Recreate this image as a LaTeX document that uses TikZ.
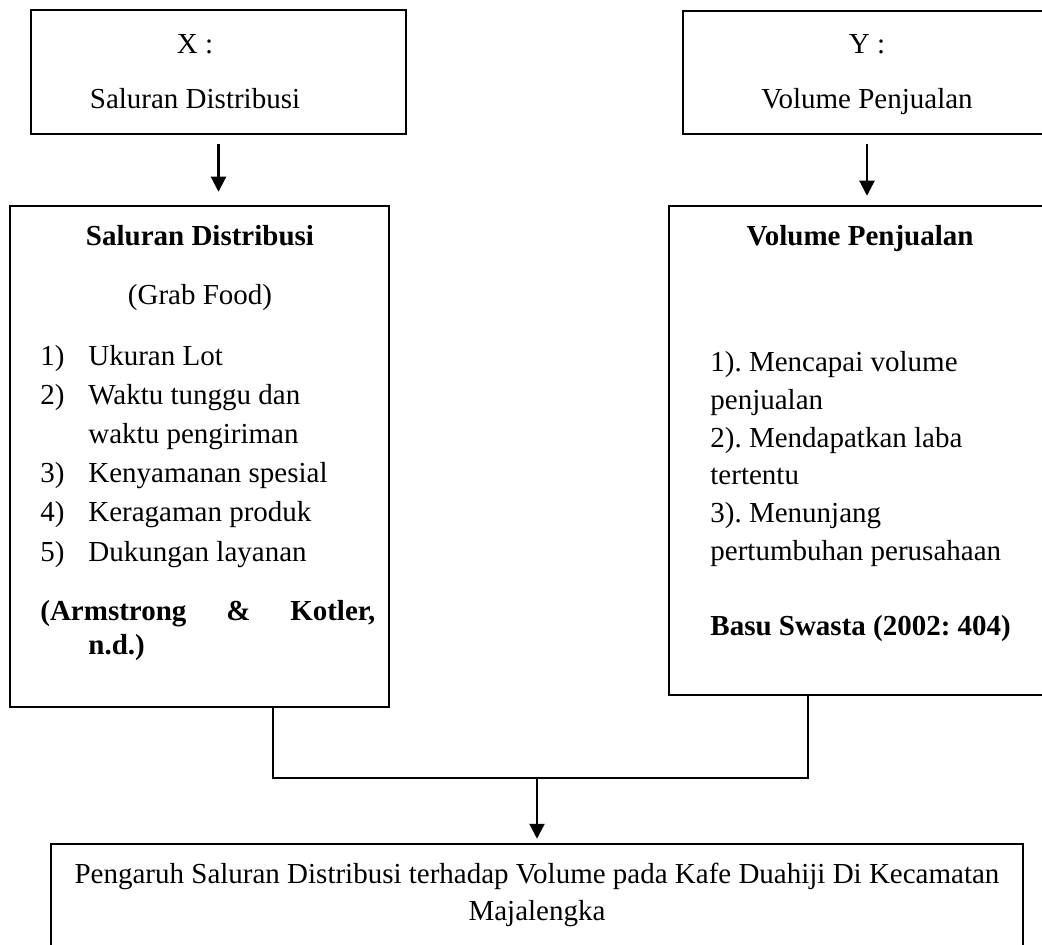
\documentclass[tikz,border=0pt]{standalone}
\usepackage{fontspec}
\setmainfont{Liberation Serif}
\usetikzlibrary{arrows.meta, positioning}
\frenchspacing

\begin{document}
\begin{tikzpicture}
	[%
	x=0.5pt, y=-0.5pt,%
	font=\fontsize{14.5}{19}\selectfont,%
	>={Triangle[length=7.5pt,width=7.5pt]},%
	frame/.style ={rectangle,	draw=black,	line width=1.25pt,	inner sep=0pt},%
	txt/.style   ={inner sep=0pt,	anchor=base},%
	txtl/.style  ={inner sep=0pt,	anchor=base west},%
	link/.style  ={line width=1.1pt},%
	]

	\useasboundingbox (0,0) rectangle (1042,945);

	% boxes
	\node (boxX)  at (218.5,72)   [frame, minimum width=187.5pt,	minimum height=62pt] {};
	\node (boxY)  at (867,72.5)   [frame, minimum width=184pt,	minimum height=61.5pt] {};
	\node (boxSD) at (199.5,456.5) [frame, minimum width=189.5pt,	minimum height=250.5pt] {};
	\node (boxVP) at (860,450.5)  [frame, minimum width=191pt,	minimum height=244.5pt] {};
	\node (boxP)  at (537,897)    [frame, minimum width=486pt,	minimum height=53pt] {};

	% variable boxes
	\node (labX) at (195,54)  [txt] {X :};
	\node (varX) at (195,109) [txt] {Saluran Distribusi};
	\node (labY) at (867,54)  [txt] {Y :};
	\node (varY) at (867,109) [txt] {Volume Penjualan};

	% left indicator box
	\node (headSD) at (200,246) [txt] {\bfseries Saluran Distribusi};
	\node (subSD)  at (200,305) [txt] {(Grab Food)};
	\foreach \n/\y in {1/366, 2/405, 3/483, 4/522, 5/561}
		\node (num\n) at (40,\y) [txtl] {\n)};
	\foreach \t/\y [count=\i] in {Ukuran Lot/366, Waktu tunggu dan/405, waktu pengiriman/444,%
										Kenyamanan spesial/483, Keragaman produk/522, Dukungan layanan/561}
		\node (item\i) at (88,\y) [txtl] {\t};
	\node (refSD)  at (40,620) [txtl] {\bfseries\makebox[167.5pt][s]{(Armstrong\hfill\&\hfill Kotler,}};
	\node (refSD2) at (88,654) [txtl] {\bfseries n.d.)};

	% right indicator box
	\node (headVP) at (860,246) [txt] {\bfseries Volume Penjualan};
	\foreach \t [count=\i] in {1). Mencapai volume, penjualan, 2). Mendapatkan laba, tertentu,%
								3). Menunjang, pertumbuhan perusahaan}
		\node (goal\i) at (710,{334.4+37.6*\i}) [txtl] {\t};
	\node (refVP) at (710,635) [txtl] {\bfseries Basu Swasta (2002: 404)};

	% result box
	\node (res1) at (537,883) [txt] {Pengaruh Saluran Distribusi terhadap Volume pada Kafe Duahiji Di Kecamatan};
	\node (res2) at (537,920) [txt] {Majalengka};

	% interconnections
	\draw [link, ->, shorten <=4.5pt, shorten >=6.5pt] (boxX.south) -- (boxX.south |- boxSD.north);
	\draw [link, ->, shorten <=4.5pt, shorten >=4.5pt] (boxY.south) -- (boxY.south |- boxVP.north);

	\coordinate (joinL) at (273,778);
	\coordinate (joinR) at (808,778);
	\coordinate (joinM) at (537,778);
	\draw [link] (joinL |- boxSD.south) -- (joinL) -- (joinR) -- (joinR |- boxVP.south);
	\draw [link, ->, shorten >=2pt] (joinM) -- (joinM |- boxP.north);

\end{tikzpicture}
\end{document}
